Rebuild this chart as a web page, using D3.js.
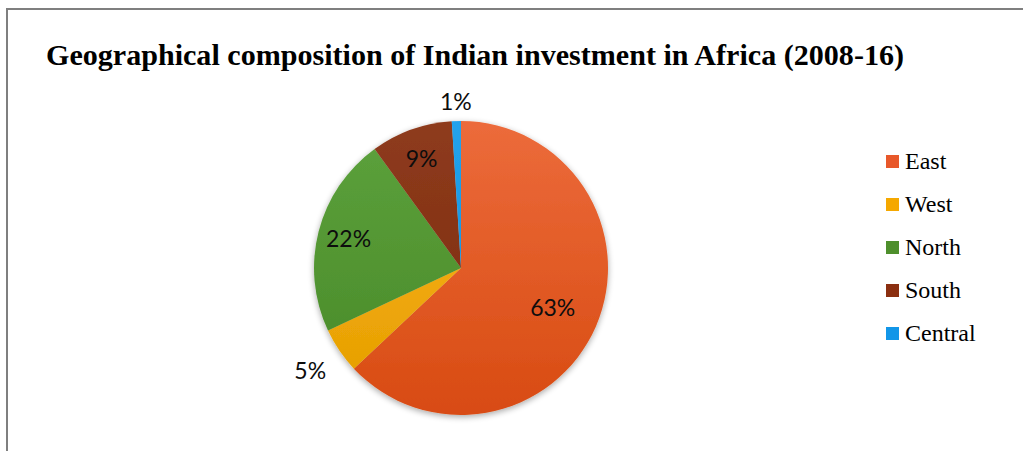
<!DOCTYPE html>
<html>
<head>
<meta charset="utf-8">
<script src="https://cdn.jsdelivr.net/npm/d3@7"></script>
<style>
  html, body { margin: 0; padding: 0; background: #fff; }
  svg { display: block; }
</style>
</head>
<body>
<div id="chart"></div>
<script>
// data
const regions = ["East", "West", "North", "South", "Central"];
const shares = [63, 5, 22, 9, 1];
const labels = ["63%", "5%", "22%", "9%", "1%"];
const titleText = "Geographical composition of Indian investment in Africa (2008-16)";

// slice colours: light (top) -> dark (bottom), plus flat legend swatch
const lightColors = ["#ec6b3b", "#ffb517", "#5da23d", "#8e3b1d", "#22a2ec"];
const darkColors  = ["#d84b12", "#e39d00", "#478826", "#7a2a0c", "#0f8ddc"];
const swatchColors = ["#e8582a", "#f5a800", "#4e8f2c", "#8b2f10", "#1296e8"];

const width = 1023, height = 451;
const cx = 461, cy = 268, R = 147;

const svg = d3.select("#chart").append("svg")
    .attr("width", width)
    .attr("height", height);

const defs = svg.append("defs");

// soft shadow like the office chart
const shadow = defs.append("filter")
    .attr("id", "shadow")
    .attr("x", "-20%").attr("y", "-20%")
    .attr("width", "140%").attr("height", "140%");
shadow.append("feGaussianBlur").attr("in", "SourceAlpha").attr("stdDeviation", 3);
shadow.append("feOffset").attr("dx", 0).attr("dy", 2).attr("result", "blur");
shadow.append("feComponentTransfer").append("feFuncA").attr("type", "linear").attr("slope", 0.35);
const merge = shadow.append("feMerge");
merge.append("feMergeNode");
merge.append("feMergeNode").attr("in", "SourceGraphic");

// gradients live in the pie group's coordinates (centre at 0,0)
regions.forEach((r, i) => {
    const g = defs.append("linearGradient")
        .attr("id", "grad" + i)
        .attr("gradientUnits", "userSpaceOnUse")
        .attr("x1", 0).attr("y1", -R)
        .attr("x2", 0).attr("y2", R);
    g.append("stop").attr("offset", "0%").attr("stop-color", lightColors[i]);
    g.append("stop").attr("offset", "100%").attr("stop-color", darkColors[i]);
});

// frame (left + top edges only)
svg.append("path")
    .attr("d", `M7,${height} L7,9 L${width},9`)
    .attr("fill", "none")
    .attr("stroke", "#7f7f7f")
    .attr("stroke-width", 2);

// Title
svg.append("text")
    .attr("x", 46)
    .attr("y", 65)
    .attr("textLength", 858)
    .attr("lengthAdjust", "spacingAndGlyphs")
    .style("font-family", "'Liberation Serif', 'Times New Roman', serif")
    .style("font-weight", "bold")
    .style("font-size", "29px")
    .style("fill", "#000")
    .text(titleText);

// Pie
const pie = d3.pie().sort(null).value(d => d);
const arcs = pie(shares);
const arc = d3.arc().innerRadius(0).outerRadius(R);

const pieG = svg.append("g")
    .attr("transform", `translate(${cx},${cy})`);

pieG.append("g")
    .attr("filter", "url(#shadow)")
    .selectAll("path")
    .data(arcs)
    .enter()
    .append("path")
    .attr("d", arc)
    .attr("fill", (d, i) => `url(#grad${i})`);

// Labels: inside for big slices, outside for small ones
pieG.selectAll("text.lbl")
    .data(arcs)
    .enter()
    .append("text")
    .attr("class", "lbl")
    .attr("transform", d => {
        const share = (d.endAngle - d.startAngle) / (2 * Math.PI);
        let r;
        if (share > 0.5) r = R * 0.68;
        else if (share >= 0.08) r = R * 0.79;
        else if (share >= 0.03) r = R * 1.24;
        else r = R * 1.13;
        const a = (d.startAngle + d.endAngle) / 2;
        return `translate(${Math.sin(a) * r},${-Math.cos(a) * r})`;
    })
    .attr("text-anchor", "middle")
    .attr("dy", "0.36em")
    .style("font-family", "Lato, 'Open Sans', sans-serif")
    .style("font-size", "23px")
    .style("fill", "#0d0d0d")
    .text((d, i) => labels[i]);

// Legend
const legend = svg.append("g")
    .attr("transform", "translate(886,161)");

const items = legend.selectAll("g")
    .data(regions)
    .enter()
    .append("g")
    .attr("transform", (d, i) => `translate(0,${i * 43})`);

items.append("rect")
    .attr("x", 0)
    .attr("y", -6)
    .attr("width", 13)
    .attr("height", 13)
    .attr("fill", (d, i) => swatchColors[i]);

items.append("text")
    .attr("x", 19)
    .attr("y", 8)
    .style("font-family", "'Liberation Serif', 'Times New Roman', serif")
    .style("font-size", "24px")
    .style("fill", "#000")
    .text(d => d);
</script>
</body>
</html>
